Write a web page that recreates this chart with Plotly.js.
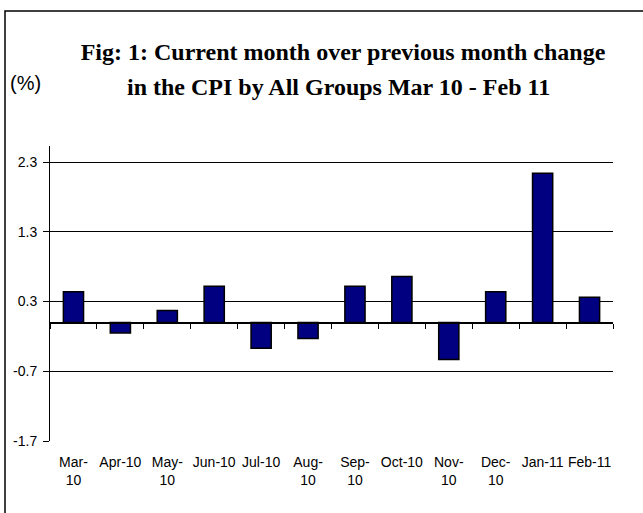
<!DOCTYPE html>
<html>
<head>
<meta charset="utf-8">
<script src="https://cdn.plot.ly/plotly-3.0.1.min.js"></script>
<style>html,body{margin:0;padding:0;background:#fff;}#chart{width:643px;height:513px;}</style>
</head>
<body>
<div id="chart"></div>
<script>
var months = ["Mar-10","Apr-10","May-10","Jun-10","Jul-10","Aug-10","Sep-10","Oct-10","Nov-10","Dec-10","Jan-11","Feb-11"];
var monthLabels = ["Mar-<br>10","Apr-10","May-<br>10","Jun-10","Jul-10","Aug-<br>10","Sep-<br>10","Oct-10","Nov-<br>10","Dec-<br>10","Jan-11","Feb-11"];
var changePct = [0.44, -0.15, 0.17, 0.52, -0.37, -0.23, 0.52, 0.66, -0.53, 0.44, 2.14, 0.36];
var yTickVals = [-1.7, -0.7, 0.3, 1.3, 2.3];
var yTickText = ["-1.7", "-0.7", "0.3", "1.3", "2.3"];
var titleLine1 = "Fig: 1: Current month over previous month change";
var titleLine2 = "in the CPI by All Groups Mar 10 - Feb 11";
var unitLabel = "(%)";

var yMin = -1.7, yMax = 2.53;
var zeroPos = (0 - yMin) / (yMax - yMin);
// category boundaries for the tick marks on the zero baseline
var boundaryVals = months.map(function (m, i) { return i - 0.5; }).concat([months.length - 0.5]);

var traces = [
  {
    type: "bar",
    x: months,
    y: changePct,
    marker: {color: "#000080", line: {color: "#000000", width: 1.5}},
    hoverinfo: "x+y",
    showlegend: false
  },
  {
    type: "scatter",
    x: months.map(function (m, i) { return i; }),
    y: changePct.map(function () { return 0.5; }),
    xaxis: "x2",
    yaxis: "y2",
    mode: "none",
    hoverinfo: "skip",
    showlegend: false
  }
];

var tickFont = {family: "Liberation Sans, Arial, sans-serif", size: 14, color: "#000"};
var titleFont = {family: "Liberation Serif, Times New Roman, serif", size: 24, color: "#000", weight: "bold"};

var layout = {
  width: 643,
  height: 513,
  margin: {l: 50, r: 30, t: 146, b: 72, pad: 0},
  paper_bgcolor: "#fff",
  plot_bgcolor: "rgba(0,0,0,0)",
  bargap: 0.57,
  title: {
    text: titleLine1,
    font: titleFont,
    x: 343 / 643,
    xref: "container",
    xanchor: "center",
    y: 1 - 52 / 513,
    yref: "container",
    yanchor: "middle"
  },
  xaxis: {
    type: "category",
    range: [-0.5, 11.5],
    tickmode: "array",
    tickvals: months,
    ticktext: monthLabels,
    tickfont: tickFont,
    showline: false,
    showgrid: false,
    zeroline: false,
    ticks: "",
    ticklabelstandoff: 11,
    fixedrange: true
  },
  yaxis: {
    range: [yMin, yMax],
    tickmode: "array",
    tickvals: yTickVals,
    ticktext: yTickText,
    tickfont: tickFont,
    showline: true,
    linecolor: "#000",
    linewidth: 1,
    showgrid: true,
    gridcolor: "#000",
    gridwidth: 1,
    zeroline: false,
    ticks: "outside",
    ticklen: 6,
    tickcolor: "#000",
    ticklabelstandoff: 3,
    fixedrange: true
  },
  xaxis2: {
    type: "linear",
    anchor: "y2",
    side: "bottom",
    domain: [0, 1],
    range: [-0.5, 11.5],
    tickmode: "array",
    tickvals: boundaryVals,
    ticktext: boundaryVals.map(function () { return ""; }),
    showline: true,
    linecolor: "#000",
    linewidth: 1.2,
    showgrid: false,
    zeroline: false,
    ticks: "outside",
    ticklen: 5,
    tickcolor: "#000",
    tickwidth: 1,
    showticklabels: true,
    fixedrange: true
  },
  yaxis2: {
    anchor: "x2",
    domain: [zeroPos, Math.min(1, zeroPos + 0.05)],
    range: [0, 1],
    showline: false,
    showgrid: false,
    zeroline: false,
    ticks: "",
    showticklabels: false,
    fixedrange: true
  },
  annotations: [
    {
      text: titleLine2,
      xref: "paper", yref: "paper",
      x: (338 - 50) / 563, y: (441 - 87) / 295,
      xanchor: "center", yanchor: "middle",
      showarrow: false,
      font: titleFont
    },
    {
      text: unitLabel,
      xref: "paper", yref: "paper",
      x: (8 - 50) / 563, y: (441 - 83) / 295,
      xanchor: "left", yanchor: "middle",
      showarrow: false,
      font: {family: "Liberation Sans, Arial, sans-serif", size: 20, color: "#000"}
    }
  ],
  shapes: [
    {
      type: "rect", xref: "paper", yref: "paper",
      x0: (5 - 50) / 563, x1: 1.3,
      y0: -0.6, y1: (441 - 11) / 295,
      line: {color: "#000", width: 1.5},
      fillcolor: "rgba(0,0,0,0)",
      layer: "below"
    }
  ]
};

Plotly.newPlot("chart", traces, layout, {displayModeBar: false, staticPlot: true});
</script>
</body>
</html>
